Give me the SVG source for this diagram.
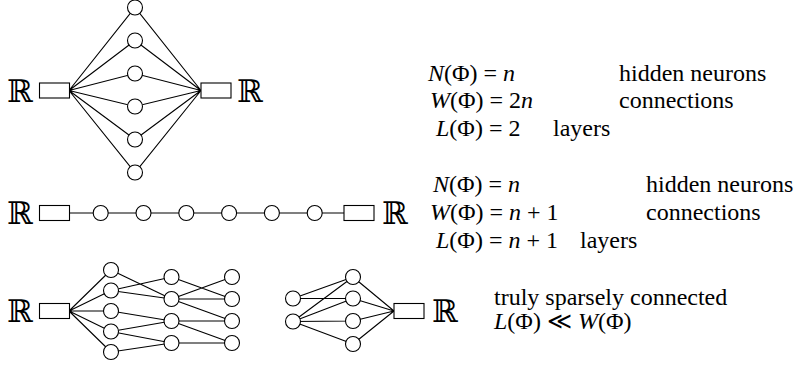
<svg xmlns="http://www.w3.org/2000/svg" width="798" height="365" viewBox="0 0 798 365">
<style>
.e{stroke:#000;stroke-width:1.1;fill:none}
.n{fill:#fff;stroke:#000;stroke-width:1.1}
.b{fill:#fff;stroke:#000;stroke-width:1.1}
.R{font-family:"DejaVu Serif","DejaVu Sans",serif;font-size:31px;fill:#000}
.t{font-family:"Liberation Serif","Times New Roman",serif;font-size:24px;fill:#000}
.i{font-style:italic}
</style>
<rect width="798" height="365" fill="#fff"/>
<g id="connectors">
<path class="e" d="M69,90.5L135,7.5L201,90.5M69,90.5L135,40.5L201,90.5M69,90.5L135,73.5L201,90.5M69,90.5L135,106.5L201,90.5M69,90.5L135,139.5L201,90.5M69,90.5L135,172.5L201,90.5"/>
<path class="e" d="M69,213H344"/>
<path class="e" d="M69,311L111,270M69,311L111,290.5M69,311L111,311M69,311L111,331.5M69,311L111,352
M111,270L171.5,299M111,290.5L171.5,277M111,290.5L171.5,299M111,311L171.5,321M111,331.5L171.5,321M111,331.5L171.5,343M111,352L171.5,343
M171.5,277L232,299M171.5,299L232,277M171.5,299L232,299M171.5,299L232,321M171.5,321L232,321M171.5,321L232,343M171.5,343L232,343"/>
<path class="e" d="M293,298.5L353,277M293,298.5L353,298.5M293,321.5L353,277M293,321.5L353,298.5M293,321.5L353,321M293,321.5L353,344
M353,277L394,311M353,298.5L394,311M353,321L394,311M353,344L394,311"/>
</g>
<g id="net1">
<text class="R" x="7" y="102">ℝ</text>
<rect class="b" x="39.5" y="83" width="30" height="15"/>
<circle class="n" cx="135" cy="7.5" r="7.5"/>
<circle class="n" cx="135" cy="40.5" r="7.5"/>
<circle class="n" cx="135" cy="73.5" r="7.5"/>
<circle class="n" cx="135" cy="106.5" r="7.5"/>
<circle class="n" cx="135" cy="139.5" r="7.5"/>
<circle class="n" cx="135" cy="172.5" r="7.5"/>
<rect class="b" x="201" y="83" width="30" height="15"/>
<text class="R" x="237" y="102">ℝ</text>
</g>
<g id="net2">
<text class="R" x="7" y="224">ℝ</text>
<rect class="b" x="39.5" y="205.5" width="30" height="15"/>
<circle class="n" cx="100.7" cy="213" r="7.5"/>
<circle class="n" cx="143.5" cy="213" r="7.5"/>
<circle class="n" cx="186.3" cy="213" r="7.5"/>
<circle class="n" cx="229.1" cy="213" r="7.5"/>
<circle class="n" cx="271.9" cy="213" r="7.5"/>
<circle class="n" cx="314.7" cy="213" r="7.5"/>
<rect class="b" x="344" y="205.5" width="30" height="15"/>
<text class="R" x="382" y="224">ℝ</text>
</g>
<g id="net3">
<text class="R" x="7" y="322">ℝ</text>
<rect class="b" x="39.5" y="303.5" width="30" height="15"/>
<circle class="n" cx="111" cy="270" r="7.5"/>
<circle class="n" cx="111" cy="290.5" r="7.5"/>
<circle class="n" cx="111" cy="311" r="7.5"/>
<circle class="n" cx="111" cy="331.5" r="7.5"/>
<circle class="n" cx="111" cy="352" r="7.5"/>
<circle class="n" cx="171.5" cy="277" r="7.5"/>
<circle class="n" cx="171.5" cy="299" r="7.5"/>
<circle class="n" cx="171.5" cy="321" r="7.5"/>
<circle class="n" cx="171.5" cy="343" r="7.5"/>
<circle class="n" cx="232" cy="277" r="7.5"/>
<circle class="n" cx="232" cy="299" r="7.5"/>
<circle class="n" cx="232" cy="321" r="7.5"/>
<circle class="n" cx="232" cy="343" r="7.5"/>
</g>
<g id="net4">
<circle class="n" cx="293" cy="298.5" r="7.5"/>
<circle class="n" cx="293" cy="321.5" r="7.5"/>
<circle class="n" cx="353" cy="277" r="7.5"/>
<circle class="n" cx="353" cy="298.5" r="7.5"/>
<circle class="n" cx="353" cy="321" r="7.5"/>
<circle class="n" cx="353" cy="344" r="7.5"/>
<rect class="b" x="394" y="303.5" width="30" height="15"/>
<text class="R" x="432" y="322">ℝ</text>
</g>
<g id="text1">
<text class="t" x="428" y="81"><tspan class="i">N</tspan>(Φ) = <tspan class="i">n</tspan></text>
<text class="t" x="619" y="81">hidden neurons</text>
<text class="t" x="430" y="108"><tspan class="i">W</tspan>(Φ) = 2<tspan class="i">n</tspan></text>
<text class="t" x="619" y="108">connections</text>
<text class="t" x="436" y="136"><tspan class="i">L</tspan>(Φ) = 2</text>
<text class="t" x="553" y="136">layers</text>
</g>
<g id="text2">
<text class="t" x="433" y="192"><tspan class="i">N</tspan>(Φ) = <tspan class="i">n</tspan></text>
<text class="t" x="646" y="192">hidden neurons</text>
<text class="t" x="430" y="220"><tspan class="i">W</tspan>(Φ) = <tspan class="i">n</tspan> + 1</text>
<text class="t" x="646" y="220">connections</text>
<text class="t" x="436" y="248"><tspan class="i">L</tspan>(Φ) = <tspan class="i">n</tspan> + 1</text>
<text class="t" x="580" y="248">layers</text>
</g>
<g id="text3">
<text class="t" x="494" y="305">truly sparsely connected</text>
<text class="t" x="494" y="329"><tspan class="i">L</tspan>(Φ) ≪ <tspan class="i">W</tspan>(Φ)</text>
</g>
</svg>
